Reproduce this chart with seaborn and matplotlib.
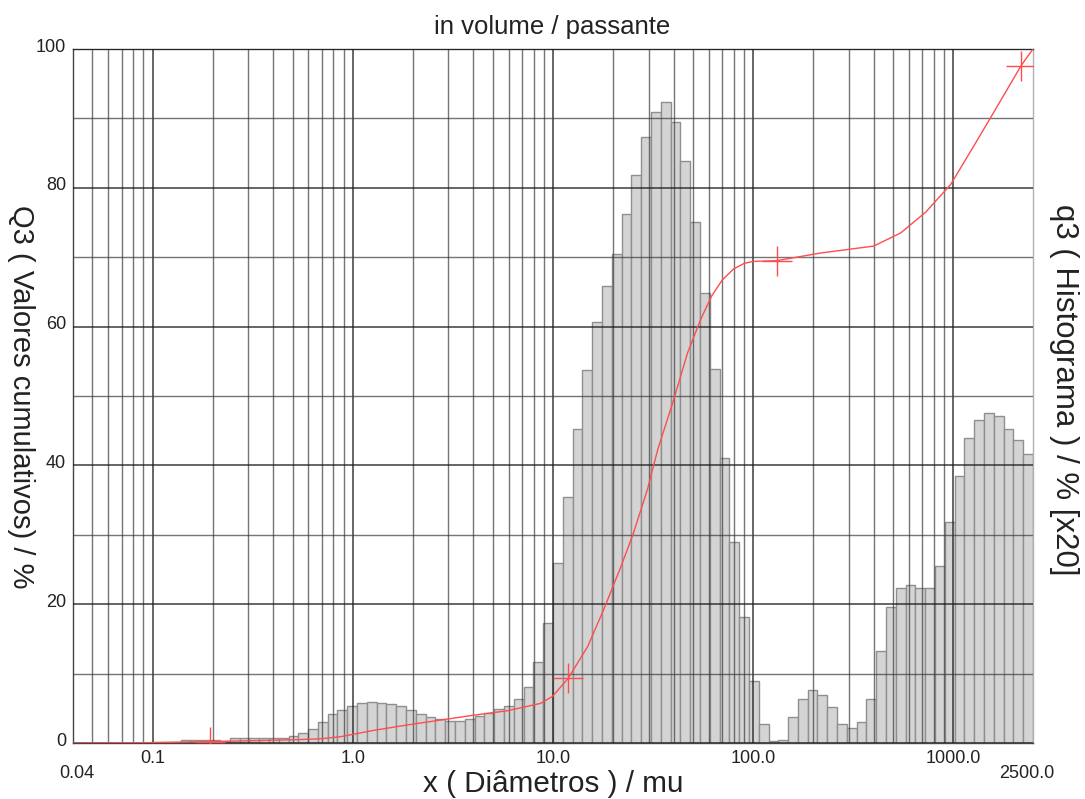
import numpy as np
import pandas as pd
import matplotlib
matplotlib.use("Agg")
import matplotlib.pyplot as plt
import matplotlib.transforms as mtransforms
import seaborn as sns
from matplotlib.ticker import FixedLocator, FixedFormatter, NullFormatter

# ---------------- data ----------------
x_min, x_max = 0.04, 2500.0
n_bins = 98

# histogram q3 (x20), left to right
q3_hist = [
    0.0, 0.0, 0.0, 0.0, 0.0, 0.0, 0.05, 0.05, 0.1, 0.1,
    0.2, 0.4, 0.4, 0.5, 0.45, 0.35, 0.7, 0.7, 0.7, 0.7,
    0.7, 0.75, 1.05, 1.5, 2.0, 3.0, 4.2, 4.8, 5.4, 5.7,
    5.85, 5.8, 5.6, 5.3, 4.7, 4.2, 3.8, 3.4, 3.1, 3.1,
    3.4, 3.9, 4.3, 4.9, 5.4, 6.4, 8.1, 11.6, 17.3, 26.0,
    35.5, 45.3, 53.7, 60.6, 65.8, 70.5, 76.2, 81.9, 87.3, 90.9,
    92.4, 89.5, 83.9, 75.1, 64.8, 53.9, 41.1, 28.9, 18.2, 8.9,
    2.7, 0.3, 0.5, 3.7, 6.3, 7.6, 6.9, 5.2, 2.7, 2.1,
    3.0, 6.4, 13.3, 19.6, 22.3, 22.8, 22.3, 22.3, 25.5, 31.9,
    38.5, 43.9, 46.5, 47.5, 47.1, 45.2, 43.6, 41.6,
]

# cumulative Q3 curve
cum_size = [0.04, 0.097, 0.194, 0.344, 0.546, 0.687, 0.865, 1.26, 1.87, 2.74,
            4.0, 5.92, 8.65, 9.93, 11.9, 14.9, 17.9, 21.7, 25.2, 29.6,
            33.3, 40.0, 47.0, 54.6, 62.0, 70.0, 79.8, 90.0, 100.5, 131.0,
            217.0, 400.0, 546.0, 728.0, 971.0, 1294.0, 1726.0, 2180.0, 2500.0]
cum_q3 = [0.0, 0.05, 0.2, 0.35, 0.5, 0.6, 0.9, 1.8, 2.6, 3.3,
          4.0, 4.65, 5.7, 6.7, 9.3, 13.9, 19.2, 25.2, 30.2, 36.5,
          42.2, 49.4, 56.2, 61.0, 64.4, 66.7, 68.3, 69.1, 69.4, 69.5,
          70.6, 71.6, 73.5, 76.5, 80.5, 86.5, 92.6, 97.6, 100.0]

# markers on the curve
mark_size = [0.194, 11.9, 131.0, 2180.0]
mark_q3 = [0.2, 9.3, 69.5, 97.6]

# ticks / grid
x_major = [0.1, 1.0, 10.0, 100.0, 1000.0]
x_major_labels = ["0.1", "1.0", "10.0", "100.0", "1000.0"]
x_minor = [0.05, 0.06, 0.07, 0.08, 0.09,
           0.2, 0.3, 0.4, 0.5, 0.6, 0.7, 0.8, 0.9,
           2, 3, 4, 5, 6, 7, 8, 9,
           20, 30, 40, 50, 60, 70, 80, 90,
           200, 300, 400, 500, 600, 700, 800, 900]
y_major = [0, 20, 40, 60, 80, 100]
y_minor = [10, 30, 50, 70, 90]

title = "in volume / passante"
xlabel = "x ( Diâmetros ) / mu"
ylabel_left = "Q3 ( Valores cumulativos) / %"
ylabel_right = "q3 ( Histograma ) / % [x20]"

# ---------------- plot ----------------
sns.set_theme(style="white")
plt.rcParams["font.family"] = ["Liberation Sans", "DejaVu Sans"]

fig = plt.figure(figsize=(10.85, 7.99), dpi=100)
ax = fig.add_axes([73 / 1085, 1 - 743 / 799, 960 / 1085, 694 / 799])

log_edges = np.linspace(np.log10(x_min), np.log10(x_max), n_bins + 1)
centers = 10 ** ((log_edges[:-1] + log_edges[1:]) / 2)
hist_df = pd.DataFrame({"size": centers, "q3": q3_hist})

sns.histplot(data=hist_df, x="size", weights="q3", bins=list(log_edges),
             log_scale=True, stat="count", element="bars", fill=True,
             color="#d4d4d4", edgecolor="#8f8f8f", linewidth=1.0, alpha=1.0,
             ax=ax, zorder=1)

cum_df = pd.DataFrame({"size": cum_size, "Q3": cum_q3})
sns.lineplot(data=cum_df, x="size", y="Q3", sort=False, color="#ff4d4d",
             linewidth=1.0, ax=ax, zorder=4)
ax.plot(mark_size, mark_q3, ls="none", marker="+", ms=22, mew=1.0,
        color="#ff4d4d", zorder=5)

ax.set_xscale("log")
ax.set_xlim(x_min, x_max)
ax.set_ylim(0, 100)

ax.xaxis.set_major_locator(FixedLocator(x_major))
ax.xaxis.set_major_formatter(FixedFormatter(x_major_labels))
ax.xaxis.set_minor_locator(FixedLocator(x_minor))
ax.xaxis.set_minor_formatter(NullFormatter())
ax.yaxis.set_major_locator(FixedLocator(y_major))
ax.yaxis.set_minor_locator(FixedLocator(y_minor))
ax.yaxis.set_minor_formatter(NullFormatter())

ax.tick_params(which="both", length=0, labelsize=13, colors="#222222")
ax.tick_params(axis="x", pad=5)
ax.tick_params(axis="y", pad=5)

offset = mtransforms.ScaledTranslation(0, 4 / 100, fig.dpi_scale_trans)
for lab in ax.get_yticklabels():
    lab.set_transform(lab.get_transform() + offset)

ax.set_axisbelow(False)
ax.grid(which="major", color="#1a1a1a", linewidth=1.1, alpha=0.85)
ax.grid(which="minor", color="#3a3a3a", linewidth=1.0, alpha=0.7)

ax.set_xlabel("")
ax.set_ylabel("")

for side, sp in ax.spines.items():
    sp.set_visible(True)
    sp.set_color("#444444")
    sp.set_linewidth(1.0)
ax.spines["right"].set_color("#b0b0b0")

fig.text(552 / 1085, 1 - 27 / 799, title, ha="center", va="center",
         fontsize=18.5, color="#222222")
fig.text(553 / 1085, 1 - 784 / 799, xlabel, ha="center", va="center",
         fontsize=21.3, color="#222222")
fig.text(21 / 1085, 1 - 397 / 799, ylabel_left, ha="center", va="center",
         rotation=270, fontsize=21, color="#222222")
fig.text(1064 / 1085, 1 - 390 / 799, ylabel_right, ha="center", va="center",
         rotation=270, fontsize=22.5, color="#222222")
fig.text(77 / 1085, 1 - 773 / 799, "0.04", ha="center", va="center",
         fontsize=13, color="#222222")
fig.text(1027 / 1085, 1 - 773 / 799, "2500.0", ha="center", va="center",
         fontsize=13, color="#222222")

fig.savefig("out.png", dpi=100)
